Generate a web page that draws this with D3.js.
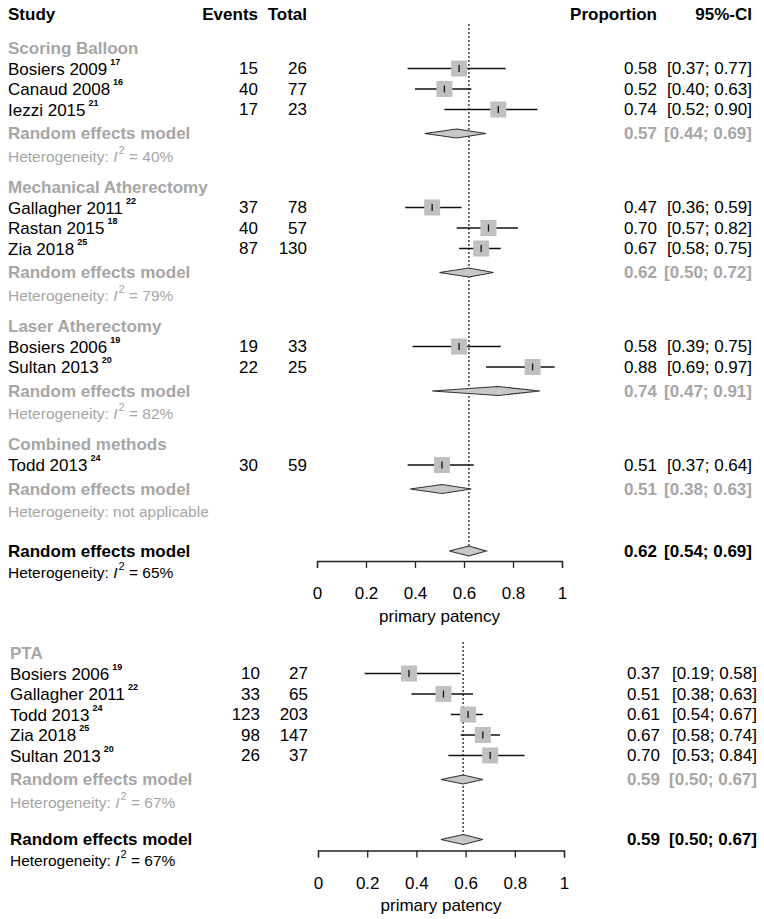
<!DOCTYPE html>
<html><head><meta charset="utf-8">
<script src="https://cdn.jsdelivr.net/npm/d3@7"></script>
<style>body{margin:0;background:#fff}svg{display:block;font-family:"Liberation Sans",Arial,sans-serif}</style>
</head><body><svg id="c" width="764" height="919"></svg>
<script>
// ---------- data ----------
const groupNames = ["Scoring Balloon", "Mechanical Atherectomy", "Laser Atherectomy", "Combined methods", "PTA"];
const groupPanel = [0, 0, 0, 0, 1];
const groupEst = [0.57, 0.62, 0.74, 0.51, 0.59];
const groupLo  = [0.44, 0.50, 0.47, 0.38, 0.50];
const groupHi  = [0.69, 0.72, 0.91, 0.63, 0.67];
const groupI2  = ["40%", "79%", "82%", null, "67%"];

const studyNames  = ["Bosiers 2009", "Canaud 2008", "Iezzi 2015", "Gallagher 2011", "Rastan 2015", "Zia 2018", "Bosiers 2006", "Sultan 2013", "Todd 2013",
                     "Bosiers 2006", "Gallagher 2011", "Todd 2013", "Zia 2018", "Sultan 2013"];
const studyRefs   = ["17", "16", "21", "22", "18", "25", "19", "20", "24", "19", "22", "24", "25", "20"];
const studyGroup  = [0, 0, 0, 1, 1, 1, 2, 2, 3, 4, 4, 4, 4, 4];
const studyEvents = [15, 40, 17, 37, 40, 87, 19, 22, 30, 10, 33, 123, 98, 26];
const studyTotal  = [26, 77, 23, 78, 57, 130, 33, 25, 59, 27, 65, 203, 147, 37];
const studyProp   = [0.58, 0.52, 0.74, 0.47, 0.70, 0.67, 0.58, 0.88, 0.51, 0.37, 0.51, 0.61, 0.67, 0.70];
const studyLo     = [0.37, 0.40, 0.52, 0.36, 0.57, 0.58, 0.39, 0.69, 0.37, 0.19, 0.38, 0.54, 0.58, 0.53];
const studyHi     = [0.77, 0.63, 0.90, 0.59, 0.82, 0.75, 0.75, 0.97, 0.64, 0.58, 0.63, 0.67, 0.74, 0.84];

const overallEst = [0.62, 0.59];
const overallLo  = [0.54, 0.50];
const overallHi  = [0.69, 0.67];
const overallI2  = ["65%", "67%"];

const axisTicks = [0, 0.2, 0.4, 0.6, 0.8, 1];
const axisLabel = "primary patency";
const headers = ["Study", "Events", "Total", "Proportion", "95%-CI"];

// ---------- styling / layout ----------
const GRAY = "#a6a6a6";
const SQ = "#c0c0c0";
const FS = 17, FS_HET = 15.5;
const fmt = d3.format(".2f");

const panels = [
  { start: 48, xl: 8, xEv: 258, xTot: 307, xProp: 657, xCI: 752, r0: 317, r1: 562, refTop: 24, axisGap: 10, header: true },
  { start: 653, xl: 10, xEv: 260, xTot: 308, xProp: 660, xCI: 757, r0: 318, r1: 564, refTop: 642, axisGap: 11, header: false }
];

const svg = d3.select("#c");

function hetText(sel, x, y, i2, color, size) {
  const t = sel.append("text").attr("x", x).attr("y", y).attr("fill", color)
    .attr("font-size", size).attr("dominant-baseline", "central");
  if (i2 === null) { t.text("Heterogeneity: not applicable"); return; }
  t.append("tspan").text("Heterogeneity: ");
  t.append("tspan").attr("font-style", "italic").text("I");
  t.append("tspan").attr("font-size", size * 0.72).attr("dy", -6).attr("dx", 1).text("2");
  t.append("tspan").attr("dy", 6).text(" = " + i2);
}

function diamond(g, x, y, lo, est, hi, h) {
  g.append("path")
    .attr("d", `M${x(lo)},${y}L${x(est)},${y - h / 2}L${x(hi)},${y}L${x(est)},${y + h / 2}Z`)
    .attr("fill", "#c8c8c8").attr("stroke", "#333").attr("stroke-width", 1.2);
}

panels.forEach((P, pi) => {
  const g = svg.append("g");
  const x = d3.scaleLinear().domain([0, 1]).range([P.r0, P.r1]);

  if (P.header) {
    const hy = 14;
    const ht = (txt, xx, anchor) => g.append("text").attr("x", xx).attr("y", hy).attr("dominant-baseline", "central")
      .attr("font-size", FS).attr("font-weight", "bold").attr("text-anchor", anchor).text(txt);
    ht(headers[0], P.xl, "start");
    ht(headers[1], P.xEv, "end");
    ht(headers[2], P.xTot, "end");
    ht(headers[3], P.xProp, "end");
    ht(headers[4], P.xCI, "end");
  }

  // build rows
  let y = P.start;
  const rows = [];
  const grpIdx = groupNames.map((_, i) => i).filter(i => groupPanel[i] === pi);
  grpIdx.forEach((gi, k) => {
    rows.push({ type: "title", gi, y });
    y += 20.5;
    const st = studyGroup.map((s, i) => s === gi ? i : -1).filter(i => i >= 0);
    st.forEach((si, j) => { rows.push({ type: "study", si, y }); if (j < st.length - 1) y += 20.5; });
    y += 24; rows.push({ type: "rem", gi, y });
    y += 22; rows.push({ type: "het", gi, y });
    if (k < grpIdx.length - 1) y += 31.5;
  });
  y += pi === 0 ? 40 : 38;
  const overallY = y;
  const overallHetY = y + 20.5;

  // reference dotted line
  g.append("line").attr("x1", x(overallEst[pi])).attr("x2", x(overallEst[pi]))
    .attr("y1", P.refTop).attr("y2", overallY).attr("stroke", "#222").attr("stroke-width", 1.3)
    .attr("stroke-dasharray", "2,2");

  rows.forEach(r => {
    if (r.type === "title") {
      g.append("text").attr("x", P.xl).attr("y", r.y).attr("dominant-baseline", "central")
        .attr("font-size", FS).attr("font-weight", "bold").attr("fill", GRAY).text(groupNames[r.gi]);
    } else if (r.type === "study") {
      const i = r.si;
      const t = g.append("text").attr("x", P.xl).attr("y", r.y).attr("dominant-baseline", "central").attr("font-size", FS);
      t.append("tspan").text(studyNames[i]);
      t.append("tspan").attr("font-size", 9).attr("font-weight", "bold").attr("dx", 3).attr("dy", -7).text(studyRefs[i]);
      g.append("text").attr("x", P.xEv).attr("y", r.y).attr("dominant-baseline", "central").attr("font-size", FS)
        .attr("text-anchor", "end").text(studyEvents[i]);
      g.append("text").attr("x", P.xTot).attr("y", r.y).attr("dominant-baseline", "central").attr("font-size", FS)
        .attr("text-anchor", "end").text(studyTotal[i]);
      g.append("text").attr("x", P.xProp).attr("y", r.y).attr("dominant-baseline", "central").attr("font-size", FS)
        .attr("text-anchor", "end").text(fmt(studyProp[i]));
      g.append("text").attr("x", P.xCI).attr("y", r.y).attr("dominant-baseline", "central").attr("font-size", FS)
        .attr("text-anchor", "end").text(`[${fmt(studyLo[i])}; ${fmt(studyHi[i])}]`);
      // marks
      g.append("line").attr("x1", x(studyLo[i])).attr("x2", x(studyHi[i])).attr("y1", r.y).attr("y2", r.y)
        .attr("stroke", "#111").attr("stroke-width", 1.3);
      const s = 16;
      g.append("rect").attr("x", x(studyProp[i]) - s / 2).attr("y", r.y - s / 2).attr("width", s).attr("height", s)
        .attr("fill", SQ);
      g.append("line").attr("x1", x(studyProp[i])).attr("x2", x(studyProp[i])).attr("y1", r.y - 3.5).attr("y2", r.y + 3.5)
        .attr("stroke", "#111").attr("stroke-width", 1.3);
    } else if (r.type === "rem") {
      const i = r.gi;
      g.append("text").attr("x", P.xl).attr("y", r.y).attr("dominant-baseline", "central")
        .attr("font-size", FS).attr("font-weight", "bold").attr("fill", GRAY).text("Random effects model");
      g.append("text").attr("x", P.xProp).attr("y", r.y).attr("dominant-baseline", "central").attr("font-size", FS)
        .attr("font-weight", "bold").attr("fill", GRAY).attr("text-anchor", "end").text(fmt(groupEst[i]));
      g.append("text").attr("x", P.xCI).attr("y", r.y).attr("dominant-baseline", "central").attr("font-size", FS)
        .attr("font-weight", "bold").attr("fill", GRAY).attr("text-anchor", "end").text(`[${fmt(groupLo[i])}; ${fmt(groupHi[i])}]`);
      diamond(g, x, r.y, groupLo[i], groupEst[i], groupHi[i], 9);
    } else if (r.type === "het") {
      hetText(g, P.xl, r.y, groupI2[r.gi], GRAY, FS_HET);
    }
  });

  // overall
  g.append("text").attr("x", P.xl).attr("y", overallY).attr("dominant-baseline", "central")
    .attr("font-size", FS).attr("font-weight", "bold").text("Random effects model");
  hetText(g, P.xl, overallHetY, overallI2[pi], "#000", FS_HET);
  g.append("text").attr("x", P.xProp).attr("y", overallY).attr("dominant-baseline", "central").attr("font-size", FS)
    .attr("font-weight", "bold").attr("text-anchor", "end").text(fmt(overallEst[pi]));
  g.append("text").attr("x", P.xCI).attr("y", overallY).attr("dominant-baseline", "central").attr("font-size", FS)
    .attr("font-weight", "bold").attr("text-anchor", "end").text(`[${fmt(overallLo[pi])}; ${fmt(overallHi[pi])}]`);
  diamond(g, x, overallY, overallLo[pi], overallEst[pi], overallHi[pi], 10);

  // axis
  const axisY = overallY + P.axisGap;
  const ax = g.append("g").attr("transform", `translate(0,${axisY})`)
    .call(d3.axisBottom(x).tickValues(axisTicks).tickFormat(d3.format("~g")).tickSize(7).tickSizeOuter(7).tickPadding(19));
  ax.selectAll("path,line").attr("stroke", "#222").attr("stroke-width", 1.3);
  ax.selectAll("text").attr("font-size", FS).attr("font-family", "Liberation Sans, Arial, sans-serif").attr("fill", "#000");
  g.append("text").attr("x", x(0.5)).attr("y", axisY + 55).attr("dominant-baseline", "central")
    .attr("text-anchor", "middle").attr("font-size", FS).text(axisLabel);
});
</script>
</body></html>
